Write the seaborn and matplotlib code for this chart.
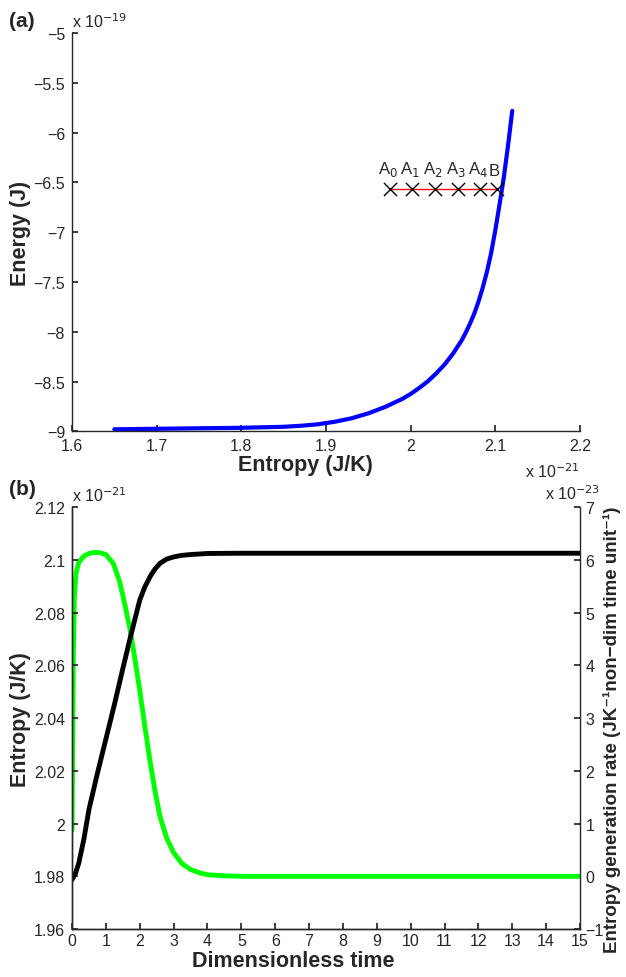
import numpy as np
import pandas as pd
import matplotlib
matplotlib.use("Agg")
import matplotlib.pyplot as plt
from matplotlib.ticker import FuncFormatter, MultipleLocator
import seaborn as sns

# ---------------- data (a) ----------------
entropy_a = [1.65, 1.70, 1.75, 1.80, 1.85, 1.87, 1.89, 1.91, 1.93, 1.95, 1.97, 1.99,
             2.00, 2.01, 2.02, 2.03, 2.04, 2.05, 2.06, 2.065, 2.07, 2.075, 2.08, 2.085,
             2.09, 2.095, 2.10, 2.105, 2.11, 2.115, 2.12]
energy_a = [-8.98, -8.975, -8.97, -8.965, -8.955, -8.945, -8.93, -8.905, -8.87, -8.82,
            -8.755, -8.675, -8.625, -8.565, -8.50, -8.42, -8.33, -8.22, -8.09, -8.01,
            -7.92, -7.82, -7.70, -7.56, -7.40, -7.21, -6.98, -6.72, -6.45, -6.13, -5.78]
point_labels = ["A$_0$", "A$_1$", "A$_2$", "A$_3$", "A$_4$", "B"]
point_s = [1.976, 2.002, 2.029, 2.056, 2.082, 2.102]
point_e = [-6.57, -6.57, -6.57, -6.57, -6.57, -6.57]

# ---------------- data (b) ----------------
t_ent = [0.0, 0.1, 0.2, 0.35, 0.5, 0.75, 1.0, 1.25, 1.5, 1.75, 2.0, 2.15, 2.3, 2.45, 2.6,
         2.8, 3.0, 3.25, 3.5, 4.0, 5.0, 7.0, 10.0, 15.0]
entropy_b = [1.9787, 1.981, 1.985, 1.994, 2.0053, 2.019, 2.032, 2.045, 2.0587, 2.072, 2.0847,
             2.0897, 2.0935, 2.0965, 2.0987, 2.1003, 2.1011, 2.1017, 2.102, 2.1024, 2.1025,
             2.1025, 2.1025, 2.1025]
t_gen = [0.0, 0.02, 0.04, 0.07, 0.12, 0.2, 0.35, 0.5, 0.65, 0.8, 1.0, 1.22, 1.4, 1.5, 1.7,
         1.85, 2.0, 2.15, 2.3, 2.45, 2.6, 2.8, 3.0, 3.25, 3.5, 3.75, 4.0, 4.5, 5.0, 10.0, 15.0]
gen_rate = [0.87, 2.5, 4.2, 5.3, 5.75, 5.95, 6.07, 6.12, 6.14, 6.14, 6.10, 5.93, 5.6, 5.33, 4.73,
            4.15, 3.53, 2.85, 2.2, 1.62, 1.13, 0.72, 0.45, 0.24, 0.13, 0.07, 0.03, 0.01, 0.0,
            0.0, 0.0]

df_a = pd.DataFrame({"S": entropy_a, "E": energy_a})
df_b1 = pd.DataFrame({"t": t_ent, "S": entropy_b})
df_b2 = pd.DataFrame({"t": t_gen, "g": gen_rate})

sns.set_theme(style="ticks")
plt.rcParams["font.family"] = ["Liberation Sans", "DejaVu Sans"]
plt.rcParams["xtick.direction"] = "in"
plt.rcParams["ytick.direction"] = "in"
plt.rcParams["axes.linewidth"] = 1.0
plt.rcParams["xtick.major.size"] = 4
plt.rcParams["ytick.major.size"] = 4
plt.rcParams["xtick.major.pad"] = 5
plt.rcParams["ytick.major.pad"] = 5
plt.rcParams["xtick.labelsize"] = 11.5
plt.rcParams["ytick.labelsize"] = 11.5

fig = plt.figure(figsize=(6.26, 9.78), dpi=100)
ax1 = fig.add_axes([0.115, 0.558, 0.8115, 0.407])
ax2 = fig.add_axes([0.115, 0.049, 0.8115, 0.4315])

fmt = FuncFormatter(lambda v, p: ("%g" % round(v, 4)).replace("-", "\u2212"))

# ---- panel (a)
sns.lineplot(data=df_a, x="S", y="E", ax=ax1, color=(0, 0, 1), linewidth=3, sort=False)
ax1.plot(point_s, point_e, color="red", linewidth=1)
sns.scatterplot(x=point_s, y=point_e, ax=ax1, marker="x", s=90, color="black",
                linewidth=1.0, zorder=5)
for lab, sx, ey in zip(point_labels, point_s, point_e):
    ax1.text(sx - 0.003, ey + 0.12, lab, ha="center", va="bottom", fontsize=12)
ax1.set_xlim(1.6, 2.2)
ax1.set_ylim(-9, -5)
ax1.xaxis.set_major_locator(MultipleLocator(0.1))
ax1.yaxis.set_major_locator(MultipleLocator(0.5))
ax1.xaxis.set_major_formatter(fmt)
ax1.yaxis.set_major_formatter(fmt)
ax1.set_xlabel("Entropy (J/K)", fontsize=15.5, fontweight="bold")
ax1.set_ylabel("Energy (J)", fontsize=15.5, fontweight="bold")
ax1.xaxis.set_label_coords(0.459, -0.056)
ax1.yaxis.set_label_coords(-0.08, 0.5)
sns.despine(ax=ax1)
ax1.text(0.0, 1.008, "x 10$^{-19}$", transform=ax1.transAxes, fontsize=11.5,
         ha="left", va="bottom")
ax1.text(1.0, -0.075, "x 10$^{-21}$", transform=ax1.transAxes, fontsize=11.5,
         ha="right", va="top")

# ---- panel (b)
sns.lineplot(data=df_b1, x="t", y="S", ax=ax2, color="black", linewidth=3.5)
ax2.set_xlim(0, 15)
ax2.set_ylim(1.96, 2.12)
ax2.xaxis.set_major_locator(MultipleLocator(1))
ax2.yaxis.set_major_locator(MultipleLocator(0.02))
ax2.xaxis.set_major_formatter(fmt)
ax2.yaxis.set_major_formatter(fmt)
ax2.tick_params(axis="x", pad=3)
ax2.set_xlabel("Dimensionless time", fontsize=15.5, fontweight="bold")
ax2.set_ylabel("Entropy (J/K)", fontsize=15.5, fontweight="bold")
ax2.xaxis.set_label_coords(0.435, -0.049)
ax2.yaxis.set_label_coords(-0.08, 0.5)
ax2.spines["top"].set_visible(False)
ax2.spines["right"].set_visible(False)

ax3 = ax2.twinx()
sns.lineplot(data=df_b2, x="t", y="g", ax=ax3, color=(0, 1, 0), linewidth=3.5)
ax3.set_ylim(-1, 7)
ax3.yaxis.set_major_locator(MultipleLocator(1))
ax3.yaxis.set_major_formatter(fmt)
ax3.tick_params(axis="y", direction="in", pad=4)
ax3.spines["top"].set_visible(False)
ax3.set_ylabel("Entropy generation rate (JK\u207b\u00b9non\u2212dim time unit\u207b\u00b9)",
               fontsize=13.5, fontweight="bold",
               family=["Liberation Sans", "DejaVu Sans"])
ax3.yaxis.set_label_coords(1.046, 0.474)
ax3.set_xlabel("")
ax2.set_zorder(ax3.get_zorder() + 1)
ax2.patch.set_visible(False)

ax2.text(0.0, 1.008, "x 10$^{-21}$", transform=ax2.transAxes, fontsize=11.5,
         ha="left", va="bottom")
ax3.text(0.985, 1.012, "x 10$^{-23}$", transform=ax3.transAxes, fontsize=11.5,
         ha="center", va="bottom")

fig.text(0.015, 0.988, "(a)", fontsize=15, fontweight="bold", va="top")
fig.text(0.015, 0.509, "(b)", fontsize=15, fontweight="bold", va="top")

fig.savefig("out.png", dpi=100)
